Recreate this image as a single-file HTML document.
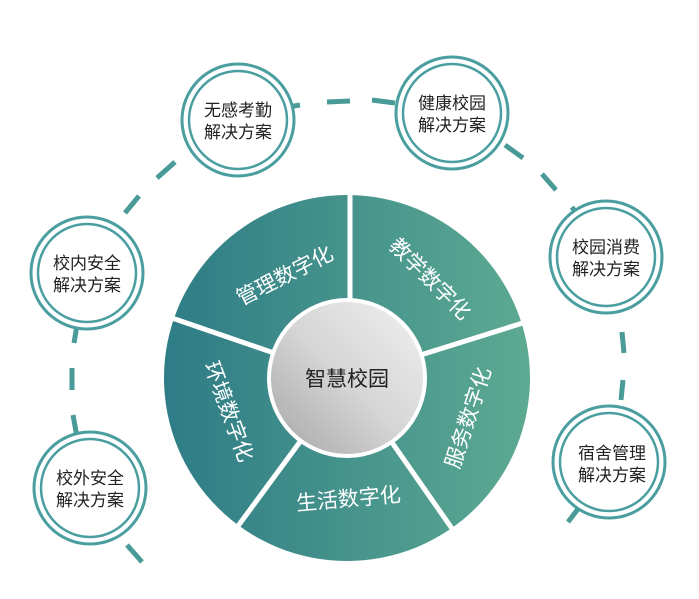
<!DOCTYPE html>
<html><head><meta charset="utf-8"><style>
html,body{margin:0;padding:0;background:#fff;}
svg{display:block;}
text{font-family:"Liberation Sans","Noto Sans CJK SC",sans-serif;}
</style></head><body>
<svg width="699" height="599" viewBox="0 0 699 599" xmlns="http://www.w3.org/2000/svg">
<defs>
<linearGradient id="g" x1="165" y1="0" x2="530" y2="0" gradientUnits="userSpaceOnUse">
<stop offset="0" stop-color="#2e7c86"/><stop offset="1" stop-color="#5daa92"/></linearGradient>
<linearGradient id="c" x1="1" y1="0" x2="0" y2="1">
<stop offset="0" stop-color="#f0f0f0"/><stop offset="0.5" stop-color="#d6d6d6"/><stop offset="1" stop-color="#a6a6a6"/></linearGradient>
</defs>
<g stroke="#4a9a98" stroke-width="5" stroke-linecap="butt" fill="none">
<line x1="288" y1="107" x2="300" y2="105"/>
<line x1="327" y1="102" x2="350" y2="101"/>
<line x1="372" y1="100" x2="395" y2="103"/>
<line x1="505" y1="145" x2="523" y2="158"/>
<line x1="542" y1="174" x2="556" y2="190"/>
<line x1="572" y1="207" x2="578" y2="216"/>
<line x1="619" y1="303" x2="620" y2="310"/>
<line x1="622" y1="332" x2="624" y2="353"/>
<line x1="623" y1="380" x2="621" y2="400"/>
<line x1="581" y1="505" x2="568" y2="522"/>
<line x1="175" y1="162" x2="157" y2="178"/>
<line x1="139" y1="196" x2="125" y2="213"/>
<line x1="77" y1="325" x2="74" y2="343"/>
<line x1="72" y1="368" x2="72" y2="390"/>
<line x1="73" y1="415" x2="77" y2="437"/>
<line x1="127" y1="545" x2="142" y2="562"/>
</g>
<circle cx="347" cy="378" r="183" fill="url(#g)"/>
<g stroke="#fff" stroke-width="5">
<line x1="350" y1="378" x2="350" y2="190"/>
<line x1="347" y1="378" x2="526" y2="322"/>
<line x1="347" y1="378" x2="453" y2="530"/>
<line x1="347" y1="378" x2="238" y2="526"/>
<line x1="347" y1="378" x2="172" y2="318"/>
</g>
<circle cx="347" cy="378" r="80" fill="#fff"/>
<circle cx="347" cy="378" r="76" fill="url(#c)"/>
<text x="347" y="386" font-size="21" fill="#222" text-anchor="middle">智慧校园</text>
<g fill="#fff" font-size="21" text-anchor="middle">
<text transform="translate(288,282) rotate(-27)">管理数字化</text>
<text transform="translate(425,284) rotate(45)">教学数字化</text>
<text transform="translate(475,420) rotate(-72)">服务数字化</text>
<text transform="translate(349,506) rotate(-5)">生活数字化</text>
<text transform="translate(222,414) rotate(70)">环境数字化</text>
</g>
<g fill="#fff" stroke="#4a9ea0">
<g transform="translate(238,120)"><circle r="56" stroke-width="3"/><circle r="49" stroke-width="2.5"/></g>
<g transform="translate(452,113)"><circle r="56" stroke-width="3"/><circle r="49" stroke-width="2.5"/></g>
<g transform="translate(606,257)"><circle r="56" stroke-width="3"/><circle r="49" stroke-width="2.5"/></g>
<g transform="translate(609,462)"><circle r="56" stroke-width="3"/><circle r="49" stroke-width="2.5"/></g>
<g transform="translate(87,273)"><circle r="56" stroke-width="3"/><circle r="49" stroke-width="2.5"/></g>
<g transform="translate(90,488)"><circle r="56" stroke-width="3"/><circle r="49" stroke-width="2.5"/></g>
</g>
<g fill="#222" font-size="17" text-anchor="middle">
<text x="238" y="116">无感考勤</text><text x="238" y="138">解决方案</text>
<text x="452" y="109">健康校园</text><text x="452" y="131">解决方案</text>
<text x="606" y="253">校园消费</text><text x="606" y="275">解决方案</text>
<text x="612" y="459">宿舍管理</text><text x="612" y="481">解决方案</text>
<text x="87" y="269">校内安全</text><text x="87" y="291">解决方案</text>
<text x="90" y="484">校外安全</text><text x="90" y="506">解决方案</text>
</g>
</svg>
</body></html>
